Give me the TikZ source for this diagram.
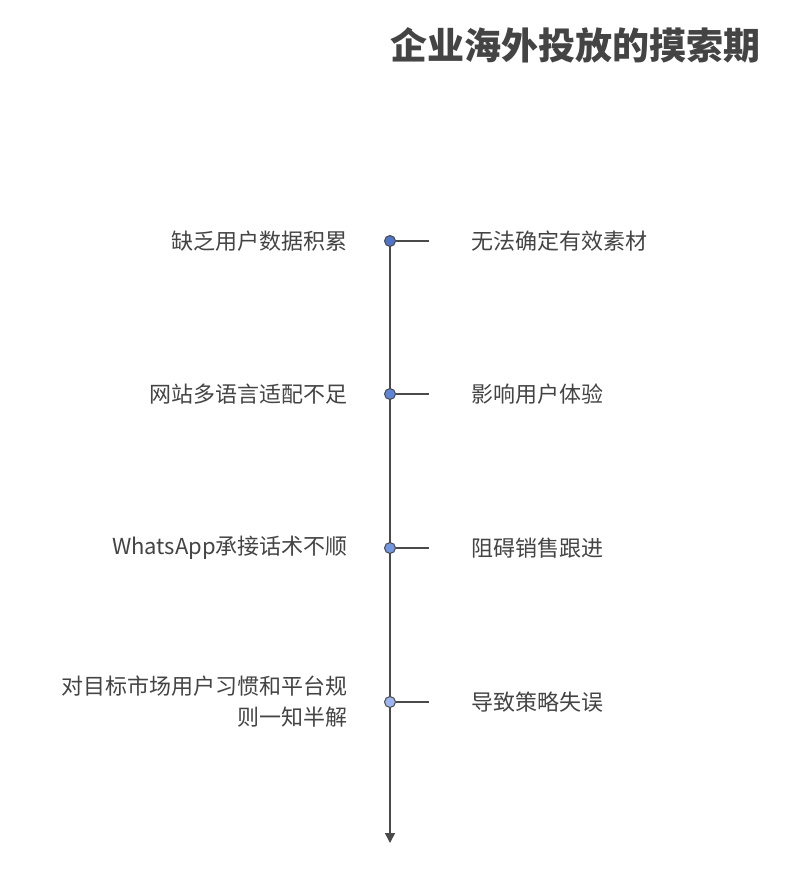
\documentclass[tikz,border=0pt]{standalone}
\usepackage{fontspec}
\setmainfont{Noto Sans CJK SC}
\usetikzlibrary{arrows.meta}
\definecolor{txt}{HTML}{444444}
\definecolor{ln}{HTML}{4A4A4A}
\begin{document}
\begin{tikzpicture}[x=1pt,y=-1pt,
  lbl/.style={text=txt,font=\fontsize{22}{31}\selectfont,inner sep=0pt},
  dotn/.style={circle,draw=ln,line width=1pt,minimum size=11pt,inner sep=0pt}]
\useasboundingbox (0,0) rectangle (792,877);
\node[anchor=east,text=txt,font=\fontsize{37}{42}\selectfont\bfseries,inner sep=0pt] (title) at (761,45) {企业海外投放的摸索期};
\coordinate (top) at (390,241);
\coordinate (bot) at (390,843);
\draw[ln,line width=1.5pt,-{Triangle[length=10pt,width=10pt]}] (top) -- (bot);
\foreach \y/\c/\l/\r/\n in {241/4F74C8/缺乏用户数据积累/无法确定有效素材/a,394/5F85D6/网站多语言适配不足/影响用户体验/b,548/7396E0/WhatsApp承接话术不顺/阻碍销售跟进/c}{
  \definecolor{dc}{HTML}{\c}
  \coordinate (t\n) at (429,\y);
  \node[dotn,fill=dc] (d\n) at (390,\y) {};
  \draw[ln,line width=1.3pt] (d\n) -- (t\n);
  \node[lbl,anchor=east] (l\n) at (348,\y) {\l};
  \node[lbl,anchor=west] (r\n) at (471,\y) {\r};
}
\definecolor{dc}{HTML}{9DB6F2}
\coordinate (td) at (429,702);
\node[dotn,fill=dc] (dd) at (390,702) {};
\draw[ln,line width=1.3pt] (dd) -- (td);
\node[lbl,anchor=east,align=right] (ld) at (348,702) {对目标市场用户习惯和平台规\\则一知半解};
\node[lbl,anchor=west] (rd) at (471,702) {导致策略失误};
\end{tikzpicture}
\end{document}
